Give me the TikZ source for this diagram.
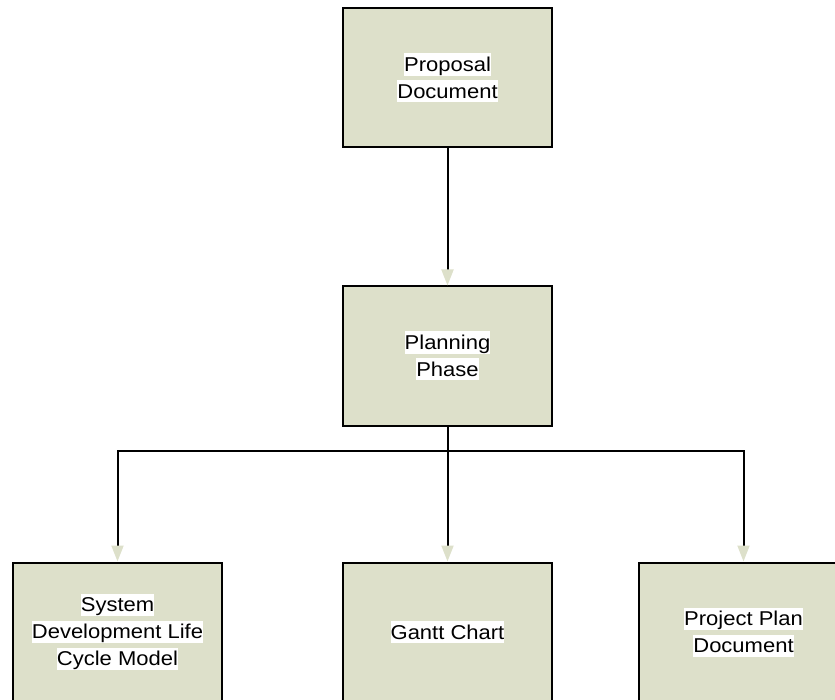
\documentclass[tikz,border=0pt]{standalone}
\usepackage{fontspec}
\newfontfamily\lblfont[FakeStretch=1.1]{Liberation Sans}
\usetikzlibrary{arrows.meta}
\definecolor{boxfill}{HTML}{DDE0CA}
% white highlight behind each text line
\newcommand{\hl}[1]{{\setlength\fboxsep{0pt}\colorbox{white}{\rule[-4pt]{0pt}{22pt}#1}}}
\begin{document}
\begin{tikzpicture}[x=1pt,y=-1pt,
  stagebox/.style={draw=black, line width=2pt, fill=boxfill,
    minimum width=209pt, minimum height=139pt, inner sep=0pt,
    align=center, font=\lblfont\fontsize{20}{27}\selectfont},
  conn/.style={line width=2pt, draw=black},
  arr/.style={conn, -{Triangle[width=12pt,length=16pt,color=boxfill,fill=boxfill]}}]
\useasboundingbox (0,0) rectangle (835,700);
\begin{scope}
\clip (0,0) rectangle (835,700);
\node[stagebox] (prop) at (447.5,78) {\hl{Proposal}\\\hl{Document}};
\node[stagebox] (plan) at (447.5,356) {\hl{Planning}\\\hl{Phase}};
\node[stagebox] (sdlc) at (117.5,632) {\hl{System}\\\hl{Development Life}\\\hl{Cycle Model}};
\node[stagebox] (gantt) at (447.5,632) {\hl{Gantt Chart}};
\node[stagebox] (ppd) at (743.5,632) {\hl{Project Plan}\\\hl{Document}};
\coordinate (split) at (447.5,451);
\draw[arr] (prop.south) -- (plan.north);
\draw[conn] (plan.south) -- (split);
\draw[arr] (split) -| (sdlc.north);
\draw[arr] (split) -- (gantt.north);
\draw[arr] (split) -| (ppd.north);
\end{scope}
\end{tikzpicture}
\end{document}
